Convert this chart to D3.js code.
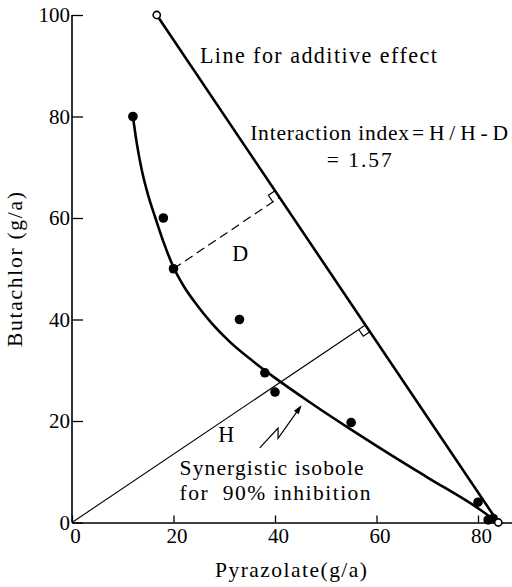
<!DOCTYPE html>
<html><head><meta charset="utf-8">
<script src="https://cdn.jsdelivr.net/npm/d3@7"></script>
<style>
html,body{margin:0;padding:0;background:#fff;}
</style></head>
<body><svg id="c" width="512" height="587"></svg>
<script>
// ---- data ----
const xTicks = [0, 20, 40, 60, 80];
const yTicks = [0, 20, 40, 60, 80, 100];
const observedPyrazolate = [12, 18, 20, 33, 38, 40, 55, 80, 82, 83];
const observedButachlor  = [80, 60, 50, 40, 29.5, 25.7, 19.7, 4, 0.5, 0.8];
const isoboleX = [12, 12.8, 13.8, 15, 16.5, 18.2, 20, 22, 24.5, 27.5, 31, 35.5, 40, 47, 55, 60, 70, 80, 83.5];
const isoboleY = [80, 74.5, 69.2, 64.5, 59.8, 54.8, 50.3, 46.6, 43.0, 39.3, 35.7, 31.9, 28.5, 23.6, 18.3, 15.1, 8.9, 2.8, 0.3];
const singleDoseX = [16.7, 84];   // Butachlor alone, Pyrazolate alone
const singleDoseY = [100, 0];
const dPoint = [20, 50];
const arrowPathX = [37.0, 40.6, 40.6, 45.0];
const arrowPathY = [14.7, 18.6, 16.6, 22.8];
const labels = {
  additive: "Line for additive effect",
  index1a: "Interaction index",
  index1b: "=H/H-D",
  index2: "= 1.57",
  D: "D", H: "H",
  iso1: "Synergistic isobole",
  iso2: "for\u00a0\u00a090% inhibition",
  xTitle: "Pyrazolate(g/a)",
  yTitle: "Butachlor (g/a)"
};

// ---- font choice (serif if available) ----
function hasFont(f) {
  const c = document.createElement("canvas").getContext("2d");
  const s = "Line for additive effect 0123456789 mmWWii";
  c.font = "40px monospace"; const w0 = c.measureText(s).width;
  c.font = `40px "${f}", monospace`; const w1 = c.measureText(s).width;
  c.font = "40px sans-serif"; const w2 = c.measureText(s).width;
  c.font = `40px "${f}", sans-serif`; const w3 = c.measureText(s).width;
  return w1 !== w0 || w3 !== w2;
}
const serifCandidates = ["Liberation Serif", "Tinos", "Times New Roman", "DejaVu Serif", "Noto Serif",
  "FreeSerif", "Nimbus Roman", "Noto Serif CJK JP", "Noto Serif CJK SC"];
let FONT = serifCandidates.find(hasFont);
const isSerif = !!FONT;
FONT = FONT ? `"${FONT}", serif` : `"Liberation Sans", sans-serif`;
const fs = isSerif ? 1.05 : 1.0;

// ---- scales ----
const x = d3.scaleLinear().domain([0, 86.7]).range([72, 512]);
const y = d3.scaleLinear().domain([0, 100]).range([522.5, 15]);
const svg = d3.select("#c").style("font-family", FONT);

// axes
const gx = svg.append("g").attr("transform", `translate(0,${y(0)})`)
  .call(d3.axisBottom(x).tickValues(xTicks).tickSizeInner(-7).tickSizeOuter(0).tickPadding(6));
const gy = svg.append("g").attr("transform", `translate(${x(0)},0)`)
  .call(d3.axisLeft(y).tickValues(yTicks).tickSizeInner(-11).tickSizeOuter(0).tickPadding(2));
[gx, gy].forEach(g => {
  g.attr("font-family", null);
  g.select(".domain").attr("stroke", "#000").attr("stroke-width", 1.6);
  g.selectAll(".tick line").attr("stroke", "#000").attr("stroke-width", 1.3);
  g.selectAll(".tick text").attr("font-size", 20 * fs).attr("fill", "#000").style("font-family", FONT);
});
gy.select(".domain").attr("d", `M0,${y(0)}V${y(100)}`);
gx.selectAll(".tick text").attr("dx", 3);

// additive line
const singleDose = singleDoseX.map((v, i) => [v, singleDoseY[i]]);
svg.append("line")
  .attr("x1", x(singleDose[0][0])).attr("y1", y(singleDose[0][1]))
  .attr("x2", x(singleDose[1][0])).attr("y2", y(singleDose[1][1]))
  .attr("stroke", "#000").attr("stroke-width", 2.6);

// perpendicular feet (pixel space)
const A = [x(singleDose[0][0]), y(singleDose[0][1])];
const B = [x(singleDose[1][0]), y(singleDose[1][1])];
function foot(P) {
  const dx = B[0] - A[0], dy = B[1] - A[1];
  const t = ((P[0] - A[0]) * dx + (P[1] - A[1]) * dy) / (dx * dx + dy * dy);
  return [A[0] + t * dx, A[1] + t * dy];
}
const O = [x(0), y(0)];
const Hf = foot(O);
const Dp = [x(dPoint[0]), y(dPoint[1])];
const Df = foot(Dp);

svg.append("line").attr("x1", O[0]).attr("y1", O[1]).attr("x2", Hf[0]).attr("y2", Hf[1])
  .attr("stroke", "#000").attr("stroke-width", 1.1);
svg.append("line").attr("x1", Dp[0]).attr("y1", Dp[1]).attr("x2", Df[0]).attr("y2", Df[1])
  .attr("stroke", "#000").attr("stroke-width", 1.2).attr("stroke-dasharray", "9,5");

// right-angle markers
function rightAngle(F, P, sign) {
  const L = Math.hypot(B[0] - A[0], B[1] - A[1]);
  const u = [sign * (B[0] - A[0]) / L, sign * (B[1] - A[1]) / L];
  const pl = Math.hypot(P[0] - F[0], P[1] - F[1]);
  const v = [(P[0] - F[0]) / pl, (P[1] - F[1]) / pl];
  const s = 8;
  const p1 = [F[0] + u[0] * s, F[1] + u[1] * s];
  const p2 = [p1[0] + v[0] * s, p1[1] + v[1] * s];
  const p3 = [F[0] + v[0] * s, F[1] + v[1] * s];
  svg.append("path").attr("d", `M${p1}L${p2}L${p3}`).attr("fill", "none")
    .attr("stroke", "#000").attr("stroke-width", 1.2);
}
rightAngle(Hf, O, 1);
rightAngle(Df, Dp, -1);

// isobole curve
const iso = isoboleX.map((v, i) => [v, isoboleY[i]]);
svg.append("path").datum(iso)
  .attr("d", d3.line().x(d => x(d[0])).y(d => y(d[1])).curve(d3.curveMonotoneX))
  .attr("fill", "none").attr("stroke", "#000").attr("stroke-width", 2.6);

// observed points
const obs = observedPyrazolate.map((v, i) => [v, observedButachlor[i]]);
svg.selectAll("circle.obs").data(obs).enter().append("circle")
  .attr("cx", d => x(d[0])).attr("cy", d => y(d[1])).attr("r", 4.8).attr("fill", "#000");
svg.selectAll("circle.single").data(singleDose).enter().append("circle")
  .attr("cx", d => x(d[0])).attr("cy", d => y(d[1])).attr("r", 3.6)
  .attr("fill", "#fff").attr("stroke", "#000").attr("stroke-width", 1.6);

// zig-zag arrow
const arrow = arrowPathX.map((v, i) => [x(v), y(arrowPathY[i])]);
svg.append("path").attr("d", d3.line()(arrow)).attr("fill", "none").attr("stroke", "#000").attr("stroke-width", 1.2);
{
  const a = arrow[arrow.length - 2], b = arrow[arrow.length - 1];
  const ang = Math.atan2(b[1] - a[1], b[0] - a[0]);
  const len = 9, w = 3;
  const tip = [b[0] + Math.cos(ang) * 2, b[1] + Math.sin(ang) * 2];
  const base = [tip[0] - Math.cos(ang) * len, tip[1] - Math.sin(ang) * len];
  const l = [base[0] + Math.sin(ang) * w, base[1] - Math.cos(ang) * w];
  const r = [base[0] - Math.sin(ang) * w, base[1] + Math.cos(ang) * w];
  svg.append("path").attr("d", `M${tip}L${l}L${r}Z`).attr("fill", "#000");
}

// texts (width fitted to the reference via textLength)
function txt(s, xv, yv, size, width) {
  const t = svg.append("text").attr("x", x(xv)).attr("y", y(yv)).text(s)
    .attr("font-size", size * fs).attr("fill", "#000");
  if (width) t.attr("textLength", width).attr("lengthAdjust", "spacing");
  return t;
}
txt(labels.additive, 25.2, 90.5, 21, 237);
txt(labels.index1a, 35.1, 75.4, 20.5, 159);
txt(labels.index1b, 67.0, 75.4, 20.5, 96);
txt(labels.index2, 50.2, 70.1, 20.5, 65);
txt(labels.D, 31.6, 51.6, 21);
txt(labels.H, 28.8, 15.9, 21);
txt(labels.iso1, 21.2, 9.3, 20.5, 184);
txt(labels.iso2, 21.2, 4.4, 20.5, 191);

svg.append("text").attr("x", 215).attr("y", 577).attr("font-size", 20.5 * fs)
  .attr("textLength", 152).attr("lengthAdjust", "spacing").text(labels.xTitle);
svg.append("text").attr("transform", "translate(22,347) rotate(-90)")
  .attr("font-size", 20.5 * fs).attr("textLength", 155).attr("lengthAdjust", "spacing").text(labels.yTitle);
</script></body></html>
